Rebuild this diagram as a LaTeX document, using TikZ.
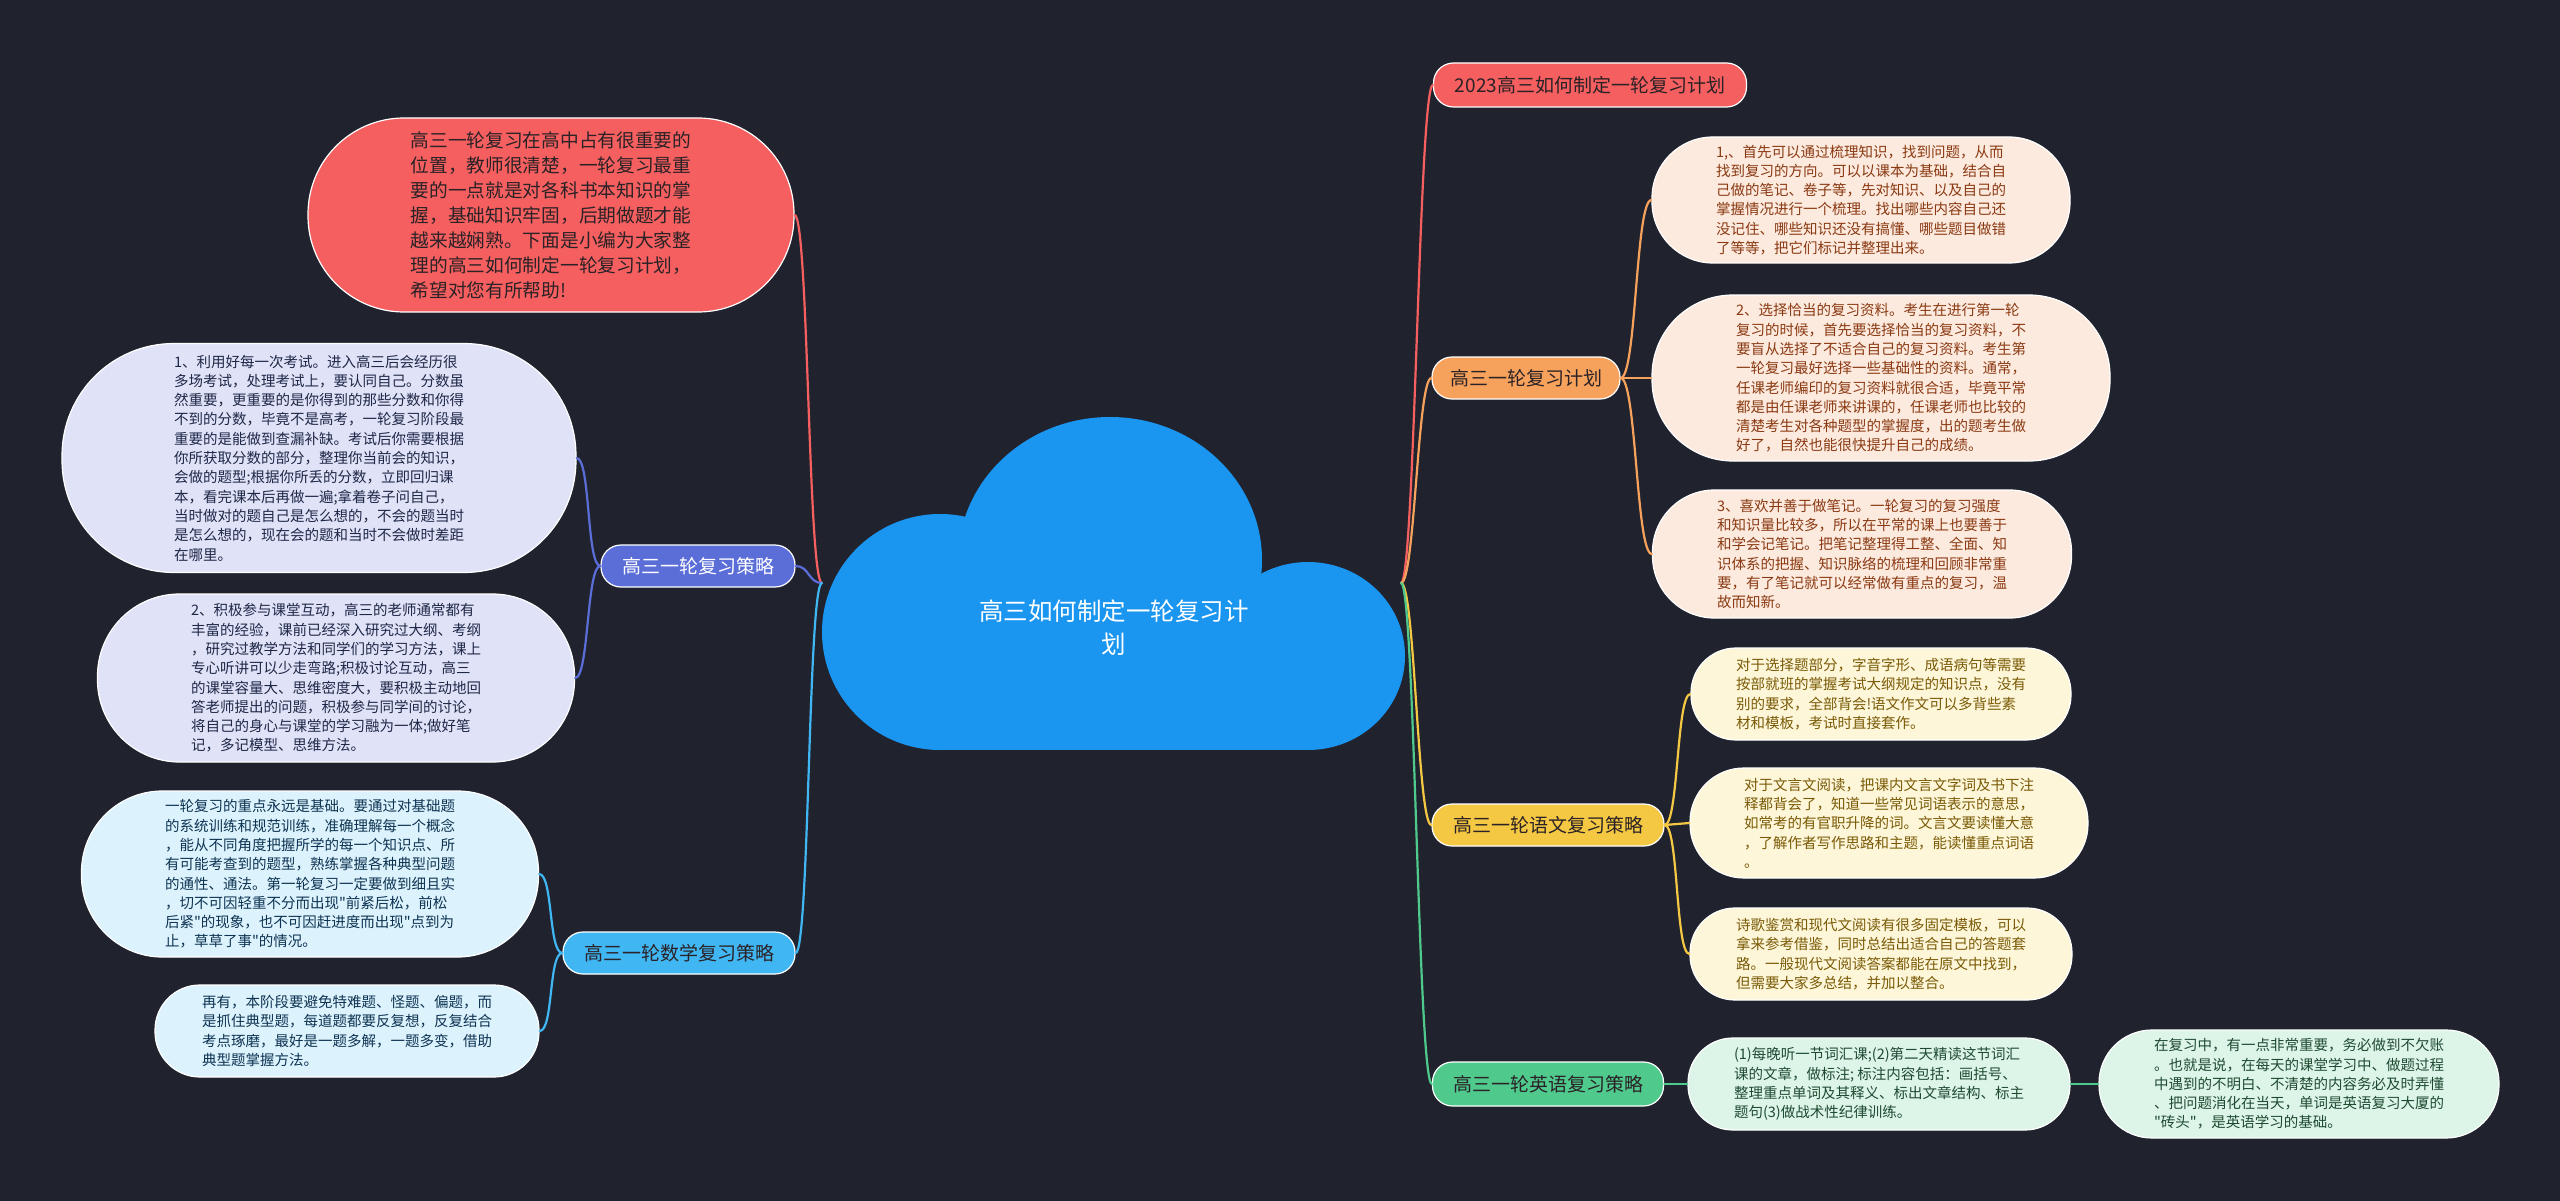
\documentclass[tikz,border=0pt]{standalone}
\usepackage{fontspec}
\setmainfont{Noto Sans CJK SC}[Ligatures=TeXOff]

\definecolor{bgdark}{HTML}{20232E}
\definecolor{cloudblue}{HTML}{1B96F0}
\definecolor{cRed}{HTML}{F55F5F}
\definecolor{cPurple}{HTML}{5B6ED8}
\definecolor{cCyan}{HTML}{40B6F2}
\definecolor{cOrange}{HTML}{F7A25C}
\definecolor{cYellow}{HTML}{F5C843}
\definecolor{cGreen}{HTML}{4FC98C}
\definecolor{lavFill}{HTML}{E0E3F8}
\definecolor{lavText}{HTML}{1E2746}
\definecolor{cyFill}{HTML}{DCF3FD}
\definecolor{cyText}{HTML}{0E3352}
\definecolor{pcFill}{HTML}{FDEADF}
\definecolor{pcText}{HTML}{8A3A12}
\definecolor{ywFill}{HTML}{FDF6D8}
\definecolor{ywText}{HTML}{7A5A06}
\definecolor{enFill}{HTML}{DDF5E8}
\definecolor{enText}{HTML}{1F4A32}
\definecolor{darkText}{HTML}{2A2226}

\begin{document}
\begin{tikzpicture}[x=1pt, y=-1pt,
  every node/.style={inner sep=0pt},
  box/.style={rectangle, draw=white, line width=1.2pt, align=left},
  branch/.style={box, rounded corners=20pt, minimum height=42pt, text=darkText,
    font=\fontsize{19}{23}\selectfont},
  leaf/.style={box, font=\fontsize{14.5}{19.3}\selectfont},
  lav/.style={leaf, fill=lavFill, text=lavText},
  cy/.style={leaf, fill=cyFill, text=cyText},
  pc/.style={leaf, fill=pcFill, text=pcText},
  yw/.style={leaf, fill=ywFill, text=ywText},
  en/.style={leaf, fill=enFill, text=enText},
  link/.style={line width=2.2pt, line cap=round}]
  \useasboundingbox (0,0) rectangle (2560,1201);
  \fill[bgdark] (0,0) rectangle (2560,1201);

  % cloud
  \fill[cloudblue] (940,632) circle[radius=118pt];
  \fill[cloudblue] (1110,560) ellipse[x radius=152pt, y radius=143pt];
  \fill[cloudblue] (1308,656) ellipse[x radius=97pt, y radius=94pt];
  \fill[cloudblue] (940,600) rectangle (1308,750);
  \node[text=white, align=center, font=\fontsize{24.5}{33}\selectfont] (root) at (1114,628)
    {高三如何制定一轮复习计\\划};
  \coordinate (hubL) at (822,583);
  \coordinate (hubR) at (1401,583);

  % left side
  \node[box, fill=cRed, text=darkText, minimum width=486pt, minimum height=194pt,
    rounded corners=96pt, font=\fontsize{18.7}{25}\selectfont] (intro) at (551,215)
    {高三一轮复习在高中占有很重要的\\位置，教师很清楚，一轮复习最重\\要的一点就是对各科书本知识的掌\\握，基础知识牢固，后期做题才能\\越来越娴熟。下面是小编为大家整\\理的高三如何制定一轮复习计划，\\希望对您有所帮助!};
  \node[branch, fill=cPurple, text=white, minimum width=194pt] (celue) at (698,566) {高三一轮复习策略};
  \node[branch, fill=cCyan, minimum width=232pt] (shuxue) at (679,953) {高三一轮数学复习策略};

  \node[lav, minimum width=514pt, minimum height=229pt, rounded corners=112pt] (lv1) at (319,458)
    {1、利用好每一次考试。进入高三后会经历很\\多场考试，处理考试上，要认同自己。分数虽\\然重要，更重要的是你得到的那些分数和你得\\不到的分数，毕竟不是高考，一轮复习阶段最\\重要的是能做到查漏补缺。考试后你需要根据\\你所获取分数的部分，整理你当前会的知识，\\会做的题型;根据你所丢的分数，立即回归课\\本，看完课本后再做一遍;拿着卷子问自己，\\当时做对的题自己是怎么想的，不会的题当时\\是怎么想的，现在会的题和当时不会做时差距\\在哪里。};
  \node[lav, minimum width=477pt, minimum height=168pt, rounded corners=82pt] (lv2) at (336,678)
    {2、积极参与课堂互动，高三的老师通常都有\\丰富的经验，课前已经深入研究过大纲、考纲\\，研究过教学方法和同学们的学习方法，课上\\专心听讲可以少走弯路;积极讨论互动，高三\\的课堂容量大、思维密度大，要积极主动地回\\答老师提出的问题，积极参与同学间的讨论，\\将自己的身心与课堂的学习融为一体;做好笔\\记，多记模型、思维方法。};
  \node[cy, minimum width=457pt, minimum height=166pt, rounded corners=81pt] (cy1) at (310,874)
    {一轮复习的重点永远是基础。要通过对基础题\\的系统训练和规范训练，准确理解每一个概念\\，能从不同角度把握所学的每一个知识点、所\\有可能考查到的题型，熟练掌握各种典型问题\\的通性、通法。第一轮复习一定要做到细且实\\，切不可因轻重不分而出现"前紧后松，前松\\后紧"的现象，也不可因赶进度而出现"点到为\\止，草草了事"的情况。};
  \node[cy, minimum width=384pt, minimum height=92pt, rounded corners=45pt] (cy2) at (347,1031)
    {再有，本阶段要避免特难题、怪题、偏题，而\\是抓住典型题，每道题都要反复想，反复结合\\考点琢磨，最好是一题多解，一题多变，借助\\典型题掌握方法。};

  % right side
  \node[branch, fill=cRed, minimum width=313pt, minimum height=44pt] (plan) at (1590,85) {2023高三如何制定一轮复习计划};
  \node[branch, fill=cOrange, minimum width=188pt] (jihua) at (1526,378) {高三一轮复习计划};
  \node[branch, fill=cYellow, minimum width=232pt] (yuwen) at (1548,825) {高三一轮语文复习策略};
  \node[branch, fill=cGreen, minimum width=231pt, minimum height=44pt] (yingyu) at (1548,1084) {高三一轮英语复习策略};

  \node[pc, minimum width=418pt, minimum height=126pt, rounded corners=61pt] (pc1) at (1861,200)
    {1,、首先可以通过梳理知识，找到问题，从而\\找到复习的方向。可以以课本为基础，结合自\\己做的笔记、卷子等，先对知识、以及自己的\\掌握情况进行一个梳理。找出哪些内容自己还\\没记住、哪些知识还没有搞懂、哪些题目做错\\了等等，把它们标记并整理出来。};
  \node[pc, minimum width=458pt, minimum height=166pt, rounded corners=81pt] (pc2) at (1881,378)
    {2、选择恰当的复习资料。考生在进行第一轮\\复习的时候，首先要选择恰当的复习资料，不\\要盲从选择了不适合自己的复习资料。考生第\\一轮复习最好选择一些基础性的资料。通常，\\任课老师编印的复习资料就很合适，毕竟平常\\都是由任课老师来讲课的，任课老师也比较的\\清楚考生对各种题型的掌握度，出的题考生做\\好了，自然也能很快提升自己的成绩。};
  \node[pc, minimum width=419pt, minimum height=128pt, rounded corners=62pt] (pc3) at (1862,554)
    {3、喜欢并善于做笔记。一轮复习的复习强度\\和知识量比较多，所以在平常的课上也要善于\\和学会记笔记。把笔记整理得工整、全面、知\\识体系的把握、知识脉络的梳理和回顾非常重\\要，有了笔记就可以经常做有重点的复习，温\\故而知新。};

  \node[yw, minimum width=380pt, minimum height=92pt, rounded corners=45pt] (yw1) at (1881,694)
    {对于选择题部分，字音字形、成语病句等需要\\按部就班的掌握考试大纲规定的知识点，没有\\别的要求，全部背会!语文作文可以多背些素\\材和模板，考试时直接套作。};
  \node[yw, minimum width=398pt, minimum height=110pt, rounded corners=54pt] (yw2) at (1889,823)
    {对于文言文阅读，把课内文言文字词及书下注\\释都背会了，知道一些常见词语表示的意思，\\如常考的有官职升降的词。文言文要读懂大意\\，了解作者写作思路和主题，能读懂重点词语\\。};
  \node[yw, minimum width=382pt, minimum height=92pt, rounded corners=45pt] (yw3) at (1881,954)
    {诗歌鉴赏和现代文阅读有很多固定模板，可以\\拿来参考借鉴，同时总结出适合自己的答题套\\路。一般现代文阅读答案都能在原文中找到，\\但需要大家多总结，并加以整合。};

  \node[en, minimum width=382pt, minimum height=92pt, rounded corners=45pt] (en1) at (1879,1084)
    {(1)每晚听一节词汇课;(2)第二天精读这节词汇\\课的文章，做标注; 标注内容包括：画括号、\\整理重点单词及其释义、标出文章结构、标主\\题句(3)做战术性纪律训练。};
  \node[en, minimum width=400pt, minimum height=108pt, rounded corners=53pt] (en2) at (2299,1084)
    {在复习中，有一点非常重要，务必做到不欠账\\。也就是说，在每天的课堂学习中、做题过程\\中遇到的不明白、不清楚的内容务必及时弄懂\\、把问题消化在当天，单词是英语复习大厦的\\"砖头"，是英语学习的基础。};

  % connectors
  \draw[link, cRed] (hubL) .. controls +(-14,0) and +(14,0) .. (intro.east);
  \draw[link, cPurple] (hubL) .. controls +(-14,0) and +(14,0) .. (celue.east);
  \draw[link, cCyan] (hubL) .. controls +(-14,0) and +(14,0) .. (shuxue.east);
  \draw[link, cPurple] (celue.west) .. controls +(-14,0) and +(14,0) .. (lv1.east);
  \draw[link, cPurple] (celue.west) .. controls +(-14,0) and +(14,0) .. (lv2.east);
  \draw[link, cCyan] (shuxue.west) .. controls +(-14,0) and +(14,0) .. (cy1.east);
  \draw[link, cCyan] (shuxue.west) .. controls +(-14,0) and +(14,0) .. (cy2.east);

  \draw[link, cRed] (hubR) .. controls +(14,0) and +(-14,0) .. (plan.west);
  \draw[link, cOrange] (hubR) .. controls +(14,0) and +(-14,0) .. (jihua.west);
  \draw[link, cYellow] (hubR) .. controls +(14,0) and +(-14,0) .. (yuwen.west);
  \draw[link, cGreen] (hubR) .. controls +(14,0) and +(-14,0) .. (yingyu.west);
  \draw[link, cOrange] (jihua.east) .. controls +(16,0) and +(-16,0) .. (pc1.west);
  \draw[link, cOrange] (jihua.east) -- (pc2.west);
  \draw[link, cOrange] (jihua.east) .. controls +(16,0) and +(-16,0) .. (pc3.west);
  \draw[link, cYellow] (yuwen.east) .. controls +(14,0) and +(-14,0) .. (yw1.west);
  \draw[link, cYellow] (yuwen.east) -- (yw2.west);
  \draw[link, cYellow] (yuwen.east) .. controls +(14,0) and +(-14,0) .. (yw3.west);
  \draw[link, cGreen] (yingyu.east) -- (en1.west);
  \draw[link, cGreen] (en1.east) -- (en2.west);
\end{tikzpicture}
\end{document}
